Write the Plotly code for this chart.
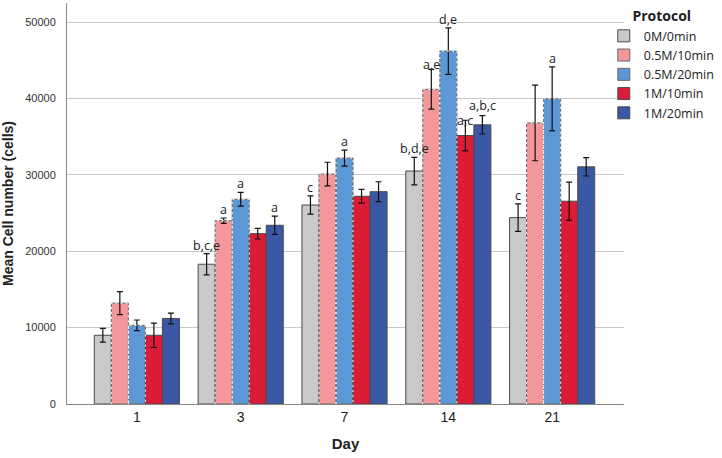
import plotly.graph_objects as go

days = ["1", "3", "7", "14", "21"]
protocols = ["0M/0min", "0.5M/10min", "0.5M/20min", "1M/10min", "1M/20min"]

mean_0M = [9000, 18300, 26050, 30500, 24400]
err_0M = [900, 1400, 1200, 1800, 1800]
mean_05M10 = [13200, 24000, 30100, 41200, 36800]
err_05M10 = [1500, 350, 1550, 2600, 4950]
mean_05M20 = [10300, 26800, 32200, 46200, 39950]
err_05M20 = [700, 900, 1050, 3050, 4200]
mean_1M10 = [9000, 22300, 27200, 35150, 26550]
err_1M10 = [1600, 700, 900, 2000, 2500]
mean_1M20 = [11200, 23400, 27800, 36550, 31050]
err_1M20 = [700, 1200, 1300, 1200, 1200]

lab_0M = ["", "b,c,e", "c", "b,d,e", "c"]
lab_05M10 = ["", "a", "", "a,e", ""]
lab_05M20 = ["", "a", "a", "d,e", "a"]
lab_1M10 = ["", "", "", "a,c", ""]
lab_1M20 = ["", "a", "", "a,b,c", ""]

means = [mean_0M, mean_05M10, mean_05M20, mean_1M10, mean_1M20]
errs = [err_0M, err_05M10, err_05M20, err_1M10, err_1M20]
labels = [lab_0M, lab_05M10, lab_05M20, lab_1M10, lab_1M20]
colors = ["#c9c9c9", "#f4979b", "#5c97d6", "#dc1c36", "#3b58a7"]
dashed = [False, True, True, False, False]

# small vertical nudges (pixels) for crowded labels, keyed by (series, day index)
label_nudge = {(1, 3): -4, (3, 3): -9, (4, 3): 2}

W = 0.164
idx = list(range(len(days)))

fig = go.Figure()
annotations = []
for k, name in enumerate(protocols):
    off = (k - 2) * W
    xs = [i + off for i in idx]
    fig.add_trace(go.Bar(
        x=xs, y=means[k], width=W, name=name,
        marker=dict(color=colors[k],
                    line=dict(color="#666666" if dashed[k] else "#4a4a4a", width=1)),
        error_y=dict(type="data", array=errs[k], color="#111111", thickness=1.2, width=3),
        hoverinfo="y",
    ))
    for i in idx:
        if labels[k][i]:
            annotations.append(dict(
                x=xs[i], y=means[k][i] + errs[k][i], text=labels[k][i],
                showarrow=False, yanchor="bottom", yshift=-1 + label_nudge.get((k, i), 0),
                borderpad=0,
                font=dict(family="Open Sans", size=12.5, color="#222222")))

# white dashes over the outline of the 0.5M series give the dashed border
for k in range(len(protocols)):
    if not dashed[k]:
        continue
    ox, oy = [], []
    for i in idx:
        c = i + (k - 2) * W
        ox += [c - W / 2, c - W / 2, c + W / 2, c + W / 2, None]
        oy += [0, means[k][i], means[k][i], 0, None]
    fig.add_trace(go.Scatter(
        x=ox, y=oy, mode="lines", showlegend=False, hoverinfo="skip",
        line=dict(color="#ffffff", width=1, dash="2px,3px")))

fig.update_layout(
    width=722, height=458,
    margin=dict(l=67, r=97, t=3, b=54),
    plot_bgcolor="white", paper_bgcolor="white",
    barmode="overlay",
    showlegend=True,
    legend=dict(
        x=0.962, y=1.0, xanchor="left", yanchor="top",
        bgcolor="rgba(0,0,0,0)",
        title=dict(text="<b>Protocol</b>", side="top center",
                   font=dict(family="Open Sans", size=14, color="#222222")),
        font=dict(family="Open Sans", size=12.5, color="#222222"),
        tracegroupgap=0,
    ),
    annotations=annotations,
    xaxis=dict(
        range=[-0.673, 4.692], tickvals=idx, ticktext=days,
        showgrid=False, zeroline=False, showline=True, linecolor="#888888",
        tickfont=dict(family="Liberation Sans", size=14, color="#222222"),
        title=dict(text="<b>Day</b>", font=dict(family="Liberation Sans", size=15, color="#222222"), standoff=14),
        ticks="",
    ),
    yaxis=dict(
        range=[0, 52500], tickvals=[0, 10000, 20000, 30000, 40000, 50000],
        ticktext=["0", "10000", "20000", "30000", "40000", "50000"],
        showgrid=True, gridcolor="#c8c8c8", gridwidth=1,
        zeroline=False, showline=True, linecolor="#888888",
        tickfont=dict(family="Liberation Sans", size=11, color="#333333"),
        ticklabelstandoff=8,
        title=dict(text="<b>Mean Cell number (cells)</b>", font=dict(family="Liberation Sans", size=14, color="#222222"), standoff=12),
        ticks="",
    ),
)

fig.write_html("out.html")
